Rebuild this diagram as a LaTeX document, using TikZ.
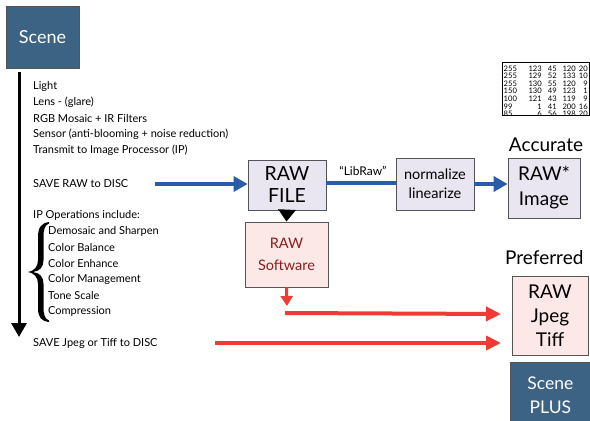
\documentclass[tikz,border=0pt]{standalone}
\usepackage{fontspec}
\usepackage{graphicx}
\setmainfont{Lato}
\usetikzlibrary{arrows.meta}
\definecolor{scenebg}{HTML}{3D6384}
\definecolor{lav}{HTML}{E9E5F1}
\definecolor{pinkbg}{HTML}{FDE8E8}
\definecolor{bluearr}{HTML}{2B5CAA}
\definecolor{redarr}{HTML}{EE3B33}
\definecolor{darkred}{HTML}{8E1B1B}
\definecolor{boxline}{HTML}{555555}
\tikzset{
  lbl/.style={anchor=west, inner sep=0pt, font=\fontsize{11}{13}\selectfont},
  boxbase/.style={draw=boxline, line width=0.8pt, align=center, inner sep=0pt},
  scenebox/.style={boxbase, fill=scenebg, text=white, font=\fontsize{18}{24}\selectfont},
  lavbox/.style={boxbase, fill=lav},
  pinkbox/.style={boxbase, fill=pinkbg},
  bluearrow/.style={draw=bluearr, line width=4pt, -{Triangle[length=14pt,width=15pt]}},
  redarrow/.style={draw=redarr, line width=4pt, -{Triangle[length=15pt,width=14pt]}},
  num/.style={anchor=base east, inner sep=0pt, font=\fontsize{7.6}{7.6}\selectfont},
}
\begin{document}
\begin{tikzpicture}[x=1pt,y=-1pt]
\useasboundingbox (0,0) rectangle (590,421);
\clip (0,0) rectangle (590,421);

% Scene box
\node[scenebox, minimum width=73pt, minimum height=62pt] (scene) at (42.5,37) {Scene};
\coordinate (vtop) at (19,72);
\coordinate (vbot) at (19,337);
\draw[line width=3pt, -{Triangle[length=14pt,width=15pt]}] (vtop) -- (vbot);

% left texts
\node[lbl] (t1) at (33,86) {Light};
\node[lbl] (t2) at (33,102) {Lens - (glare)};
\node[lbl] (t3) at (33,118) {RGB Mosaic + IR Filters};
\node[lbl] (t4) at (33,134) {Sensor (anti-blooming + noise reduction)};
\node[lbl] (t5) at (33,150) {Transmit to Image Processor (IP)};
\node[lbl] (saveraw) at (33,184) {SAVE RAW to DISC};
\node[lbl] (ipops) at (33,215) {IP Operations include:};
% brace
\fill (49,222) .. controls (41,223) and (38,228) .. (38,237) -- (38,260)
  .. controls (38,267) and (34,271) .. (28,272)
  .. controls (34,273) and (38,277) .. (38,284) -- (38,308)
  .. controls (38,317) and (41,321) .. (49,322)
  -- (49,320.5) .. controls (45,319) and (43.5,315) .. (43.5,307) -- (43.5,284)
  .. controls (43.5,277) and (40,273) .. (33,272)
  .. controls (40,271) and (43.5,267) .. (43.5,260) -- (43.5,237)
  .. controls (43.5,229) and (45,225) .. (49,223.5) -- cycle;
\node[lbl] (o1) at (48,231) {Demosaic and Sharpen};
\node[lbl] (o2) at (48,247) {Color Balance};
\node[lbl] (o3) at (48,263) {Color Enhance};
\node[lbl] (o4) at (48,279) {Color Management};
\node[lbl] (o5) at (48,295) {Tone Scale};
\node[lbl] (o6) at (48,311) {Compression};
\node[lbl] (savejpg) at (33,343) {SAVE Jpeg or Tiff to DISC};

% RAW FILE
\node[lavbox, minimum width=78pt, minimum height=50pt, font=\fontsize{19.5}{22}\selectfont] (rawfile) at (287,185) {RAW\\FILE};
\coordinate (bstart) at (155,184);
\draw[bluearrow] (bstart) -- (bstart -| rawfile.west);

% LibRaw
\node[inner sep=0pt, font=\fontsize{12}{14}\selectfont] (libraw) at (363,171) {“LibRaw”};

% normalize linearize
\node[lavbox, minimum width=78pt, minimum height=52pt, font=\fontsize{14.5}{19}\selectfont] (norm) at (435,184) {normalize\\linearize};
\draw[draw=bluearr, line width=4pt] (rawfile.east |- 0,183) -- (norm.west |- 0,183);

% RAW* Image
\node[font=\fontsize{19}{20}\selectfont, inner sep=0pt] (accurate) at (546,145) {Accurate};
\node[lavbox, minimum width=72pt, minimum height=60pt, font=\fontsize{19}{25}\selectfont] (rawstar) at (544,188) {RAW*\\Image};
\draw[bluearrow] (norm.east |- 0,184) -- (rawstar.west |- 0,184);

% number table
\coordinate (tabtl) at (502,62);
\coordinate (tabbr) at (589,115);
\begin{scope}
\clip (tabtl) rectangle (tabbr);
\foreach \a/\b/\c/\d/\e [count=\i] in {255/123/45/120/20,255/129/52/133/10,255/130/55/120/9,150/130/49/123/1,100/121/43/119/9,99/1/41/200/16,85/6/56/198/20}{
  \pgfmathsetmacro{\yy}{68.4+7.6*(\i-1)+2.7}
  \node[anchor=base west, inner sep=0pt, font=\fontsize{7.6}{7.6}\selectfont] at (503.5,\yy) {\a};
  \node[num] at (542,\yy) {\b};
  \node[num] at (557,\yy) {\c};
  \node[num] at (576,\yy) {\d};
  \node[num] at (588,\yy) {\e};
}
\end{scope}
\draw[line width=0.6pt] (tabtl) rectangle (tabbr);

% RAW Software
\node[pinkbox, minimum width=83pt, minimum height=65pt, text=darkred, font=\fontsize{14.5}{22}\selectfont] (rawsw) at (286.5,254.5) {RAW\\Software};
\draw[line width=3pt, -{Triangle[length=12pt,width=17pt]}] (rawfile.south) -- (rawsw.north);

% red arrows
\coordinate (rdown) at (287,306);
\draw[draw=redarr, line width=3pt, -{Triangle[length=10pt,width=12pt]}] (rawsw.south) -- (rdown);
\coordinate (r1s) at (285,313);
\coordinate (r1e) at (501,314);
\draw[redarrow] (r1s) -- (r1e);
\coordinate (r2s) at (215,343);
\coordinate (r2e) at (501,343);
\draw[redarrow] (r2s) -- (r2e);

% Preferred
\node[anchor=west, inner sep=0pt, font=\fontsize{19}{20}\selectfont] (preferred) at (505,258) {Preferred};
\node[pinkbox, minimum width=76pt, minimum height=79pt, font=\fontsize{19}{24}\selectfont] (rawjpg) at (550,315.5) {RAW\\Jpeg\\Tiff};

% Scene PLUS
\node[scenebox, minimum width=80pt, minimum height=66pt, font=\fontsize{17.5}{24}\selectfont, anchor=north west] (sceneplus) at (510,362) {Scene\\PLUS};
\end{tikzpicture}
\end{document}
